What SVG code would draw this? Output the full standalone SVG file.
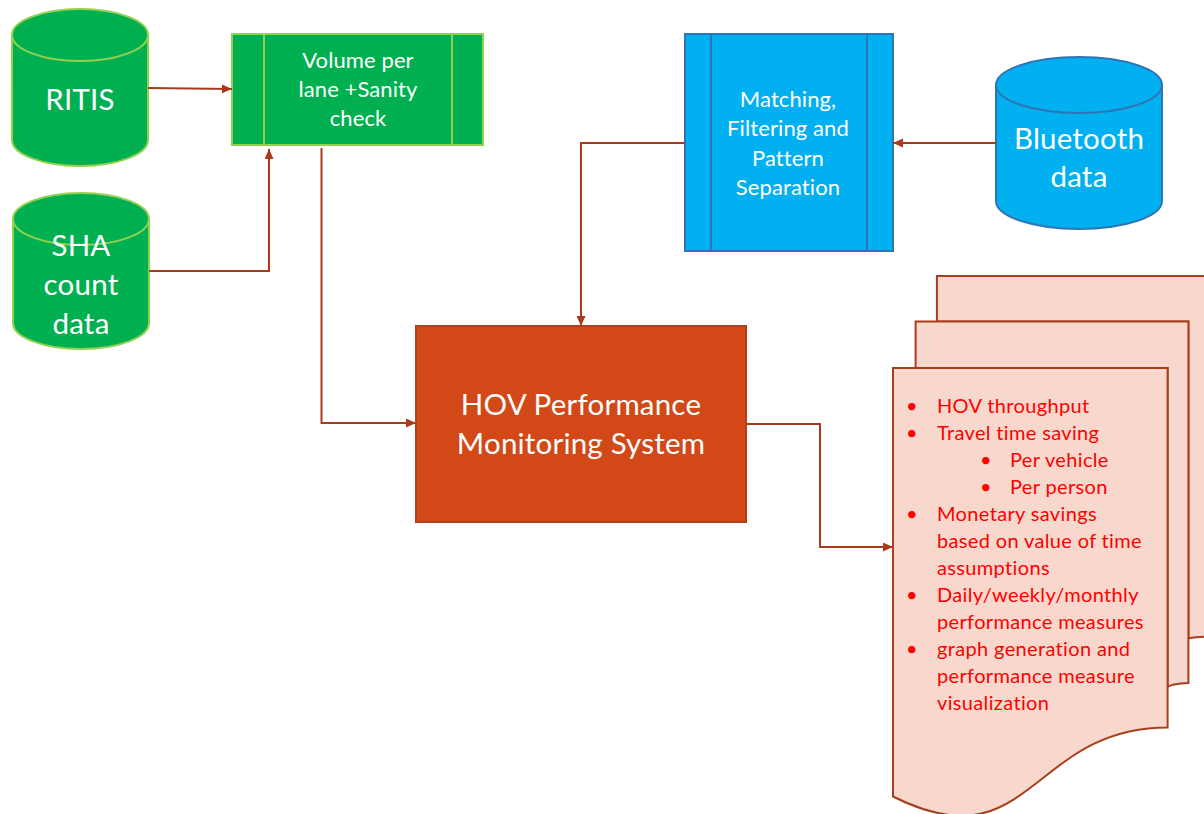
<svg xmlns="http://www.w3.org/2000/svg" width="1204" height="814" viewBox="0 0 1204 814">
<defs>
<style>
.lbl{font-family:Lato,"Liberation Sans",sans-serif;fill:#FFFFFF;text-anchor:middle}
.big{font-size:29.5px;letter-spacing:0.2px}
.mid{font-size:22px;letter-spacing:0.1px}
.bul{font-family:Lato,"Liberation Sans",sans-serif;font-size:20px;letter-spacing:0.35px;fill:#FF0000}
.g{fill:#00B050;stroke:#92D050;stroke-width:2}
.b{fill:#00B0F0;stroke:#2E75B6;stroke-width:2}
.doc{fill:#F8D8CC;stroke:#A83E1E;stroke-width:2}
.conn{fill:none;stroke:#A83B1B;stroke-width:2}
</style>
<marker id="arr" markerUnits="userSpaceOnUse" markerWidth="11" markerHeight="10" refX="10" refY="4.5" orient="auto">
<path d="M0,0 L10,4.5 L0,9 z" fill="#A83B1B"/>
</marker>
</defs>

<g id="ritis">
<path class="g" d="M12,35 A68,26 0 0 1 148,35 L148,140 A68,26 0 0 1 12,140 Z"/>
<path class="g" d="M12,35 A68,26 0 0 0 148,35"/>
<text class="lbl big" x="80" y="110">RITIS</text>
</g>

<g id="sha">
<path class="g" d="M13,219 A68,26 0 0 1 149,219 L149,323 A68,26 0 0 1 13,323 Z"/>
<path class="g" d="M13,219 A68,26 0 0 0 149,219"/>
<text class="lbl big" x="81" y="256">SHA</text>
<text class="lbl big" x="81" y="295">count</text>
<text class="lbl big" x="81" y="334">data</text>
</g>

<g id="volume">
<rect class="g" x="232" y="34" width="251" height="111"/>
<line class="g" x1="264" y1="34" x2="264" y2="145"/>
<line class="g" x1="452" y1="34" x2="452" y2="145"/>
<text class="lbl mid" x="358" y="68">Volume per</text>
<text class="lbl mid" x="358" y="97">lane +Sanity</text>
<text class="lbl mid" x="358" y="126">check</text>
</g>

<g id="matching">
<rect class="b" x="685" y="34" width="208" height="217"/>
<line class="b" x1="711" y1="34" x2="711" y2="251"/>
<line class="b" x1="867" y1="34" x2="867" y2="251"/>
<text class="lbl mid" x="788" y="107">Matching,</text>
<text class="lbl mid" x="788" y="136">Filtering and</text>
<text class="lbl mid" x="788" y="166">Pattern</text>
<text class="lbl mid" x="788" y="195">Separation</text>
</g>

<g id="bluetooth">
<path class="b" d="M996,85 A83,28 0 0 1 1162,85 L1162,201 A83,28 0 0 1 996,201 Z"/>
<path class="b" d="M996,85 A83,28 0 0 0 1162,85"/>
<text class="lbl big" x="1079" y="149">Bluetooth</text>
<text class="lbl big" x="1079" y="187">data</text>
</g>

<g id="hov">
<rect x="416" y="326" width="330" height="196" fill="#D24817" stroke="#B0411A" stroke-width="2"/>
<text class="lbl big" x="581" y="415">HOV Performance</text>
<text class="lbl big" x="581" y="454">Monitoring System</text>
</g>

<g id="outputs">
<path class="doc" d="M936.9,321.5 L936.9,276 L1212,276 L1212,636.5 C1200.2,636.5 1188.4,638.3 1188.4,638.3 L1188.4,321.5 Z"/>
<path class="doc" d="M915.6,368 L915.6,321.5 L1188.4,321.5 L1188.4,683 C1178,683 1167.6,685.6 1167.6,687.6 L1167.6,368 Z"/>
<path class="doc" d="M893,796.5 C1030.3,865.6 1030.3,727.4 1167.6,727.4 L1167.6,368 L893,368 Z"/>
<g class="bul">
<text x="912" y="413" text-anchor="middle">•</text><text x="937" y="413">HOV throughput</text>
<text x="912" y="440" text-anchor="middle">•</text><text x="937" y="440">Travel time saving</text>
<text x="986" y="467" text-anchor="middle">•</text><text x="1010" y="467">Per vehicle</text>
<text x="986" y="494" text-anchor="middle">•</text><text x="1010" y="494">Per person</text>
<text x="912" y="521" text-anchor="middle">•</text><text x="937" y="521">Monetary savings</text>
<text x="937" y="548">based on value of time</text>
<text x="937" y="575">assumptions</text>
<text x="912" y="602" text-anchor="middle">•</text><text x="937" y="602">Daily/weekly/monthly</text>
<text x="937" y="629">performance measures</text>
<text x="912" y="656" text-anchor="middle">•</text><text x="937" y="656">graph generation and</text>
<text x="937" y="683">performance measure</text>
<text x="937" y="710">visualization</text>
</g>
</g>

<g id="connectors">
<path class="conn" marker-end="url(#arr)" d="M148,88 L232,89"/>
<path class="conn" marker-end="url(#arr)" d="M149,271 L269,271 L269,149"/>
<path class="conn" marker-end="url(#arr)" d="M321.5,148 L321.5,423 L416,423"/>
<path class="conn" marker-end="url(#arr)" d="M685,143 L581,143 L581,326"/>
<path class="conn" marker-end="url(#arr)" d="M996,143 L893,143"/>
<path class="conn" marker-end="url(#arr)" d="M746,424 L820,424 L820,547 L893,547"/>
</g>
</svg>
